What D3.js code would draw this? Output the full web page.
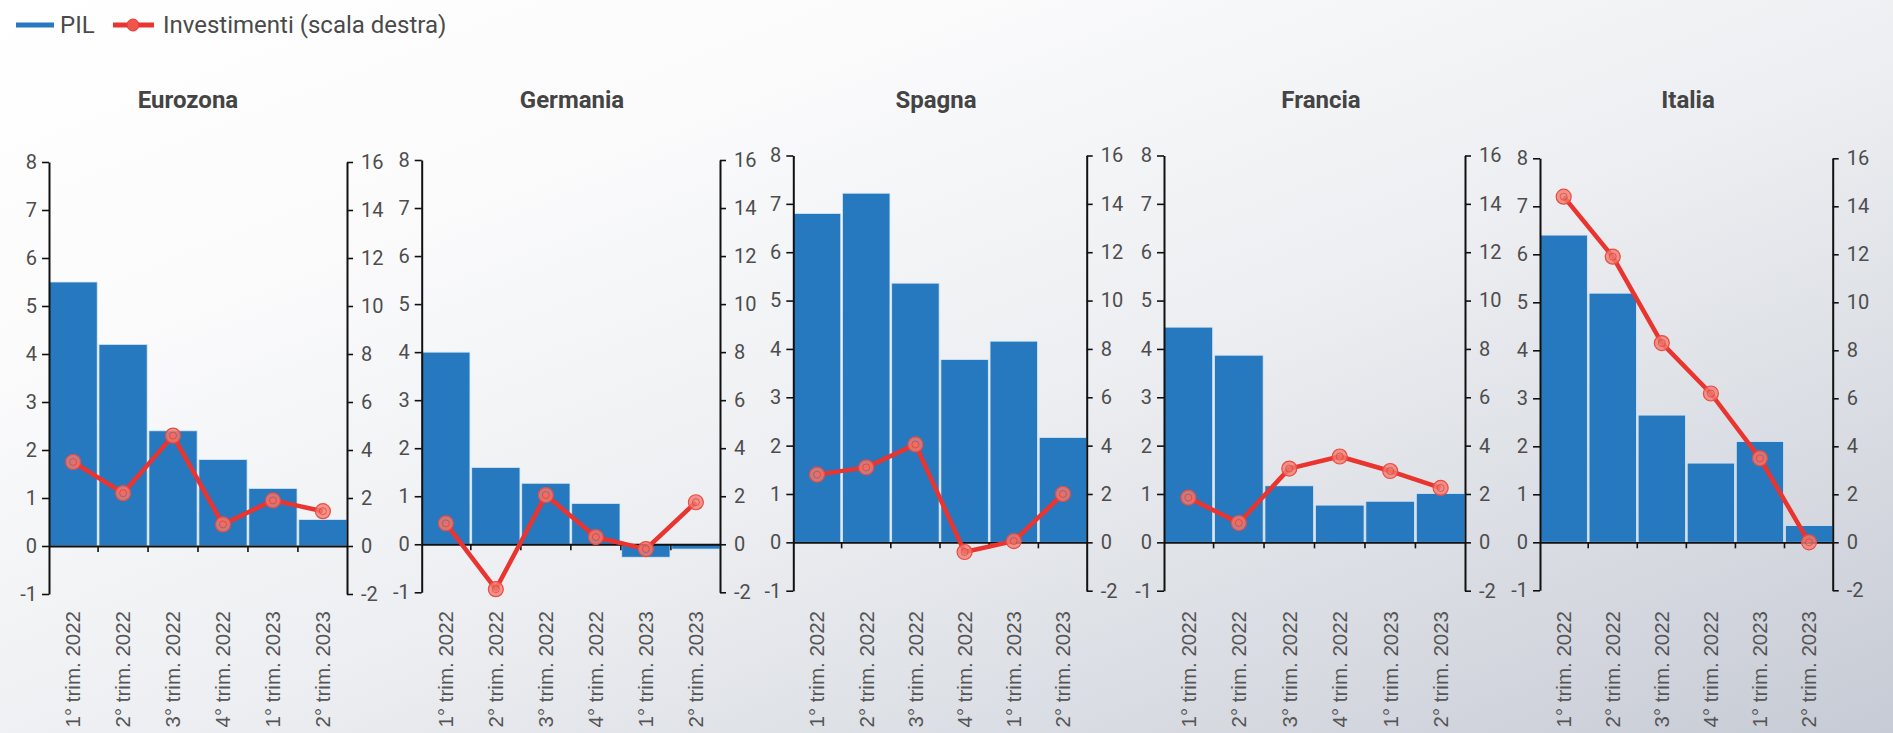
<!DOCTYPE html>
<html><head><meta charset="utf-8">
<script src="https://cdn.jsdelivr.net/npm/d3@7"></script>
<style>html,body{margin:0;padding:0;overflow:hidden;background:#fff}</style>
</head><body><svg id="c" width="1893" height="733"></svg>
<script>
// ---------- data ----------
const categories = ["1° trim. 2022","2° trim. 2022","3° trim. 2022","4° trim. 2022","1° trim. 2023","2° trim. 2023"];
const countries = ["Eurozona","Germania","Spagna","Francia","Italia"];
const pilEurozona = [5.5, 4.2, 2.4, 1.8, 1.2, 0.55];
const pilGermania = [4.0, 1.6, 1.27, 0.85, -0.27, -0.1];
const pilSpagna   = [6.8, 7.22, 5.36, 3.78, 4.16, 2.17];
const pilFrancia  = [4.45, 3.87, 1.17, 0.77, 0.85, 1.01];
const pilItalia   = [6.4, 5.19, 2.65, 1.65, 2.1, 0.35];
const invEurozona = [3.5, 2.2, 4.6, 0.9, 1.9, 1.45];
const invGermania = [0.87, -1.87, 2.05, 0.3, -0.2, 1.75];
const invSpagna   = [2.8, 3.1, 4.05, -0.4, 0.05, 2.0];
const invFrancia  = [1.85, 0.8, 3.05, 3.55, 2.95, 2.25];
const invItalia   = [14.4, 11.9, 8.3, 6.2, 3.5, 0.0];
const leftTicks  = [-1, 0, 1, 2, 3, 4, 5, 6, 7, 8];
const rightTicks = [-2, 0, 2, 4, 6, 8, 10, 12, 14, 16];
const legendLabels = ["PIL", "Investimenti (scala destra)"];

const pilSeries = [pilEurozona, pilGermania, pilSpagna, pilFrancia, pilItalia];
const invSeries = [invEurozona, invGermania, invSpagna, invFrancia, invItalia];

// ---------- layout ----------
const W = 1893, H = 733;
const panelLeft  = [49, 421.7, 793.3, 1164, 1540];
const panelRight = [347, 720, 1086.7, 1465, 1832.7];
const panelTop   = [162, 160, 155.5, 155.5, 158.3];
const panelBot   = [594, 592.3, 590.7, 590.7, 590.3];
const titleX     = [188, 572, 936, 1321, 1688];
const FONT = "Roboto, 'Liberation Sans', Arial, sans-serif";
const BLUE = "#2779bf", RED = "#ea3430";

const svg = d3.select("#c");
const defs = svg.append("defs");
const g = defs.append("linearGradient").attr("id","bg").attr("x1",0).attr("y1",0).attr("x2",1).attr("y2",1);
g.append("stop").attr("offset",0).attr("stop-color","#ffffff");
g.append("stop").attr("offset",0.25).attr("stop-color","#fbfbfc");
g.append("stop").attr("offset",0.55).attr("stop-color","#eceef1");
g.append("stop").attr("offset",1).attr("stop-color","#c7cbd5");
svg.append("rect").attr("width",W).attr("height",H).attr("fill","url(#bg)");

// legend
const lg = svg.append("g");
lg.append("line").attr("x1",16).attr("x2",54).attr("y1",25).attr("y2",25).attr("stroke",BLUE).attr("stroke-width",5);
lg.append("text").attr("x",60).attr("y",33).text(legendLabels[0])
  .attr("font-family",FONT).attr("font-size",24).attr("fill","#4a4a4a");
lg.append("line").attr("x1",113).attr("x2",154).attr("y1",25).attr("y2",25).attr("stroke",RED).attr("stroke-width",5);
lg.append("circle").attr("cx",133).attr("cy",25).attr("r",6).attr("fill","#f0554b").attr("stroke",RED).attr("stroke-width",1);
lg.append("text").attr("x",163).attr("y",33).text(legendLabels[1])
  .attr("font-family",FONT).attr("font-size",24).attr("fill","#4a4a4a");

countries.forEach((name, p) => {
  const x0 = panelLeft[p], x1 = panelRight[p];
  const yL = d3.scaleLinear().domain([-1, 8]).range([panelBot[p], panelTop[p]]);
  const yR = d3.scaleLinear().domain([-2, 16]).range([panelBot[p], panelTop[p]]);
  const x = d3.scaleBand().domain(categories).range([x0, x1]).paddingInner(0.035).paddingOuter(0);
  const pg = svg.append("g");

  // title
  pg.append("text").attr("x", titleX[p]).attr("y", 108).attr("text-anchor","middle")
    .attr("font-family",FONT).attr("font-weight","bold").attr("font-size",24).attr("fill","#444").text(name);

  // bars
  const pil = pilSeries[p];
  pg.selectAll("rect.bar").data(categories).join("rect").attr("class","bar")
    .attr("x", d => x(d)).attr("width", x.bandwidth())
    .attr("y", (d,i) => yL(Math.max(0, pil[i])))
    .attr("height", (d,i) => Math.abs(yL(pil[i]) - yL(0)))
    .attr("fill", BLUE).attr("stroke","#d9e7f4").attr("stroke-width",0.8);

  // left axis
  const la = pg.append("g").attr("transform",`translate(${x0},0)`)
    .call(d3.axisLeft(yL).tickValues(leftTicks).tickFormat(d => String(d)).tickSize(7).tickSizeOuter(0).tickPadding(5));
  // right axis
  const ra = pg.append("g").attr("transform",`translate(${x1},0)`)
    .call(d3.axisRight(yR).tickValues(rightTicks).tickFormat(d => String(d)).tickSize(6).tickSizeOuter(0).tickPadding(8));
  [la, ra].forEach(a => {
    a.select(".domain").attr("stroke","#111").attr("stroke-width",2);
    a.selectAll(".tick line").attr("stroke","#111").attr("stroke-width",1.6);
    a.selectAll(".tick text").attr("font-family",FONT).attr("font-size",20).attr("fill","#4d4d4d");
  });

  // zero line + category ticks
  const xa = pg.append("g").attr("transform",`translate(0,${yL(0)})`)
    .call(d3.axisBottom(x).tickSize(0).tickFormat(""));
  xa.select(".domain").attr("stroke","#111").attr("stroke-width",1.8);
  pg.selectAll("line.ct").data(categories.slice(1)).join("line").attr("class","ct")
    .attr("x1", d => x(d) - x.step()*x.paddingInner()/2).attr("x2", d => x(d) - x.step()*x.paddingInner()/2)
    .attr("y1", yL(0)).attr("y2", yL(0) + 6).attr("stroke","#111").attr("stroke-width",1.6);

  // category labels
  pg.selectAll("text.cat").data(categories).join("text").attr("class","cat")
    .attr("transform", d => `translate(${x(d) + x.bandwidth()/2},611) rotate(-90)`)
    .attr("text-anchor","end").attr("dy","0.36em")
    .attr("font-family","'Liberation Sans', Arial, sans-serif").attr("font-size",20.5).attr("fill","#555")
    .text(d => d);

  // investment line
  const inv = invSeries[p];
  const line = d3.line().x((d,i) => x(categories[i]) + x.bandwidth()/2).y(d => yR(d));
  pg.append("path").datum(inv).attr("d", line).attr("fill","none")
    .attr("stroke",RED).attr("stroke-width",4.5).attr("stroke-linejoin","round");
  const mk = pg.selectAll("g.mk").data(inv).join("g").attr("class","mk")
    .attr("transform",(d,i) => `translate(${x(categories[i]) + x.bandwidth()/2},${yR(d)})`);
  mk.append("circle").attr("r",7.5).attr("fill","#f37a6f").attr("fill-opacity",0.8).attr("stroke","#ec4b40").attr("stroke-width",1.2);
  mk.append("circle").attr("r",3.5).attr("fill","none").attr("stroke","#c93a30").attr("stroke-width",1).attr("opacity",0.6);
});
</script>
</body></html>
